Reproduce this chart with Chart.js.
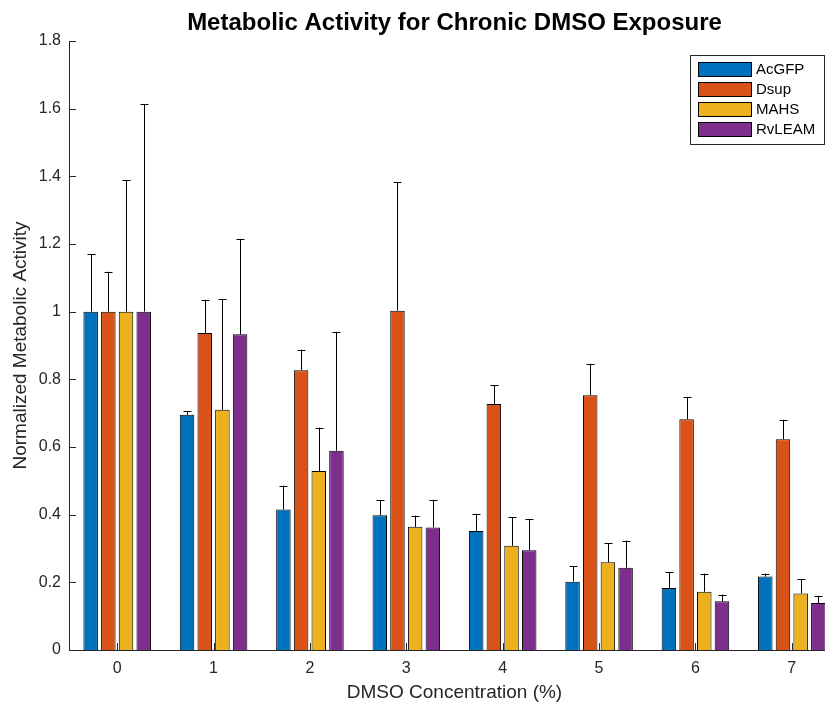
<!DOCTYPE html>
<html><head><meta charset="utf-8">
<script src="https://cdn.jsdelivr.net/npm/chart.js@4.4.1/dist/chart.umd.min.js"></script>
<style>
html,body{margin:0;padding:0;overflow:hidden;background:#fff;width:825px;height:704px}
#wrap{width:860px;height:704px;position:relative}
</style></head><body><div id="wrap"><canvas id="c" width="860" height="704"></canvas></div>
<script>
const categories = ['0','1','2','3','4','5','6','7'];
const seriesNames = ['AcGFP','Dsup','MAHS','RvLEAM'];
const acgfp     = [1.000,0.695,0.415,0.398,0.352,0.202,0.183,0.217];
const acgfpErr  = [0.170,0.010,0.071,0.045,0.051,0.046,0.047,0.009];
const dsup      = [1.000,0.937,0.827,1.003,0.727,0.753,0.682,0.623];
const dsupErr   = [0.118,0.098,0.061,0.380,0.056,0.093,0.066,0.057];
const mahs      = [1.000,0.710,0.529,0.364,0.308,0.259,0.172,0.167];
const mahsErr   = [0.389,0.326,0.128,0.033,0.085,0.056,0.054,0.043];
const rvleam    = [1.000,0.933,0.589,0.362,0.295,0.243,0.144,0.139];
const rvleamErr = [0.613,0.282,0.350,0.082,0.091,0.080,0.020,0.021];
const yTickValues = [0,0.2,0.4,0.6,0.8,1.0,1.2,1.4,1.6,1.8];
const yTickLabels = ['0','0.2','0.4','0.6','0.8','1','1.2','1.4','1.6','1.8'];

const colors = ['#0072BD','#D95319','#EDB120','#7E2F8E'];
const seriesValues = [acgfp, dsup, mahs, rvleam];
const seriesErrors = [acgfpErr, dsupErr, mahsErr, rvleamErr];
const FONT = '"Liberation Sans", Arial, Helvetica, sans-serif';
const AXC = '#262626';

const decor = {
  id: 'decor',
  afterDatasetsDraw(chart) {
    const ctx = chart.ctx, ys = chart.scales.y, xs = chart.scales.x;
    ctx.save();
    ctx.strokeStyle = '#000';
    ctx.lineWidth = 1;
    chart.data.datasets.forEach((ds, i) => {
      const meta = chart.getDatasetMeta(i);
      meta.data.forEach((bar, j) => {
        const top = ys.getPixelForValue(ds.data[j] + seriesErrors[i][j]);
        const cx = Math.round(bar.x) + 0.5;
        ctx.beginPath();
        ctx.moveTo(cx, bar.y);
        ctx.lineTo(cx, top);
        ctx.moveTo(cx - 4, Math.round(top) + 0.5);
        ctx.lineTo(cx + 4, Math.round(top) + 0.5);
        ctx.stroke();
      });
    });
    ctx.strokeStyle = AXC;
    const L = chart.chartArea.left, B = chart.chartArea.bottom;
    ys.ticks.forEach(t => {
      const py = Math.round(ys.getPixelForValue(t.value)) + 0.5;
      ctx.beginPath(); ctx.moveTo(L, py); ctx.lineTo(L + 7, py); ctx.stroke();
    });
    categories.forEach((c, k) => {
      const px = Math.round(xs.getPixelForValue(k)) + 0.5;
      ctx.beginPath(); ctx.moveTo(px, B); ctx.lineTo(px, B - 7); ctx.stroke();
    });
    ctx.restore();
  },
  afterDraw(chart) {
    const ctx = chart.ctx;
    ctx.save();
    const bx = 690.5, by = 55.5, bw = 134, bh = 89;
    ctx.fillStyle = '#fff';
    ctx.fillRect(bx, by, bw, bh);
    ctx.strokeStyle = AXC; ctx.lineWidth = 1;
    ctx.strokeRect(bx, by, bw, bh);
    ctx.font = '15px ' + FONT;
    ctx.textBaseline = 'middle';
    ctx.textAlign = 'left';
    seriesNames.forEach((n, i) => {
      const sy = 62.5 + i * 20;
      ctx.fillStyle = colors[i];
      ctx.fillRect(698.5, sy, 53, 14);
      ctx.strokeStyle = '#000';
      ctx.strokeRect(698.5, sy, 53, 14);
      ctx.fillStyle = '#000';
      ctx.fillText(n, 756, sy + 7.5);
    });
    ctx.restore();
  }
};

new Chart(document.getElementById('c'), {
  type: 'bar',
  data: {
    labels: categories,
    datasets: seriesNames.map((n, i) => ({
      label: n,
      data: seriesValues[i],
      backgroundColor: colors[i],
      borderColor: '#000',
      borderWidth: 1,
      categoryPercentage: 0.734,
      barPercentage: 0.82
    }))
  },
  options: {
    responsive: false,
    animation: false,
    devicePixelRatio: 1,
    layout: { padding: { left: 0, right: 20, top: 0, bottom: 0 } },
    plugins: {
      legend: { display: false },
      tooltip: { enabled: false },
      title: {
        display: true,
        text: 'Metabolic Activity for Chronic DMSO Exposure',
        fullSize: false,
        color: '#000',
        font: { family: FONT, size: 24, weight: 'bold' },
        padding: { top: 8.6, bottom: 3.6 }
      }
    },
    scales: {
      x: {
        grid: { display: false, drawTicks: false },
        border: { display: true, color: AXC, width: 1 },
        ticks: { color: AXC, font: { family: FONT, size: 16 }, padding: 9, maxRotation: 0 },
        title: { display: true, text: 'DMSO Concentration (%)', color: AXC,
                 font: { family: FONT, size: 19 }, padding: { top: 0, bottom: 0 } },
        afterFit(s) { s.height = 54; }
      },
      y: {
        min: 0, max: 1.8,
        grid: { display: false, drawTicks: false },
        border: { display: true, color: AXC, width: 1 },
        afterBuildTicks(s) { s.ticks = yTickValues.map(v => ({ value: v })); },
        ticks: { color: AXC, font: { family: FONT, size: 16 }, padding: 8,
                 callback: (v, i) => yTickLabels[i] },
        title: { display: true, text: 'Normalized Metabolic Activity', color: AXC,
                 font: { family: FONT, size: 19 }, padding: { top: 9, bottom: 0 } },
        afterFit(s) { s.width = 69; }
      }
    }
  },
  plugins: [decor]
});
</script></body></html>
